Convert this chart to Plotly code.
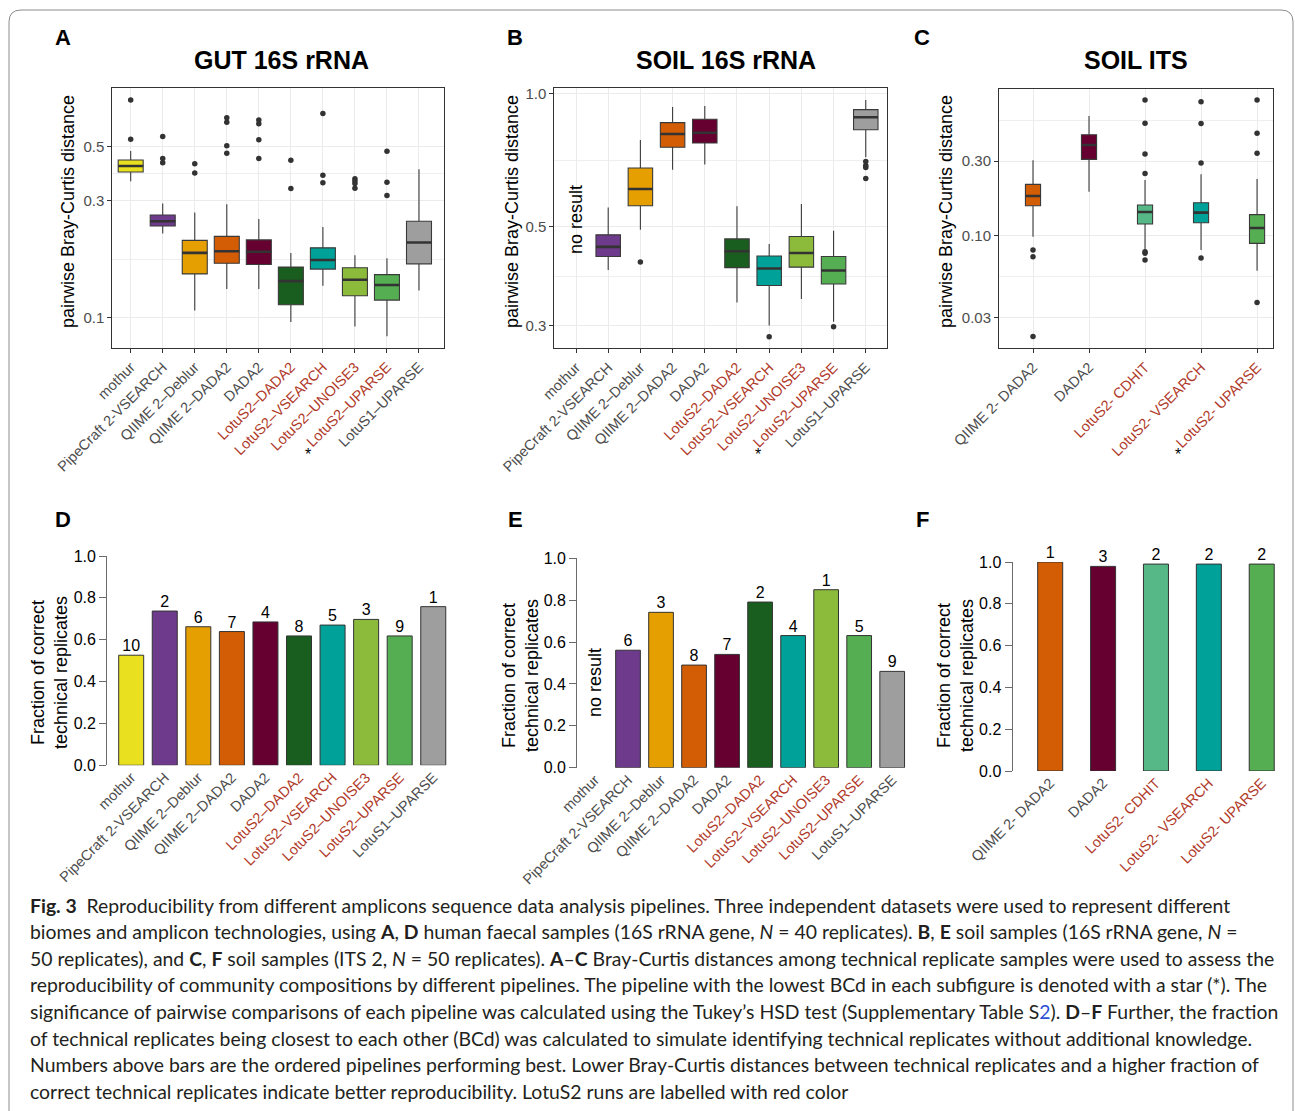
import plotly.graph_objects as go

W, H = 1295, 1111

# ---------------- data ----------------
pipes_16s = ["mothur", "PipeCraft 2-VSEARCH", "QIIME 2–Deblur", "QIIME 2–DADA2", "DADA2",
             "LotuS2–DADA2", "LotuS2–VSEARCH", "LotuS2–UNOISE3", "LotuS2–UPARSE", "LotuS1–UPARSE"]
pipes_its = ["QIIME 2- DADA2", "DADA2", "LotuS2- CDHIT", "LotuS2- VSEARCH", "LotuS2- UPARSE"]

colors_16s = ["#E9E01F", "#6E3A8B", "#E59F00", "#D35D04", "#660030",
              "#1A5E1F", "#00A198", "#8CBB3B", "#55AE52", "#9E9E9E"]
colors_its = ["#D35D04", "#660030", "#56B886", "#00A198", "#55AE52"]

# A: GUT 16S rRNA  (pairwise Bray-Curtis distance)
gut_low = [0.361, 0.221, 0.107, 0.131, 0.131, 0.096, 0.135, 0.092, 0.084, 0.129]
gut_q1 = [0.394, 0.237, 0.151, 0.167, 0.165, 0.113, 0.158, 0.123, 0.118, 0.166]
gut_med = [0.417, 0.248, 0.184, 0.187, 0.186, 0.141, 0.172, 0.143, 0.136, 0.203]
gut_q3 = [0.441, 0.263, 0.207, 0.215, 0.208, 0.161, 0.193, 0.160, 0.150, 0.248]
gut_high = [0.480, 0.293, 0.269, 0.291, 0.253, 0.184, 0.235, 0.180, 0.175, 0.404]
gut_out = [[0.776, 0.536], [0.550, 0.447, 0.430], [0.426, 0.390], [0.657, 0.629, 0.505, 0.470],
           [0.643, 0.621, 0.534, 0.447], [0.440, 0.337], [0.684, 0.382, 0.356],
           [0.370, 0.362, 0.354, 0.338], [0.479, 0.358, 0.316], []]

# B: SOIL 16S rRNA
soil_low = [None, 0.400, 0.493, 0.673, 0.691, 0.338, 0.300, 0.344, 0.306, 0.718]
soil_q1 = [None, 0.429, 0.558, 0.756, 0.773, 0.405, 0.369, 0.406, 0.372, 0.828]
soil_med = [None, 0.451, 0.609, 0.810, 0.815, 0.441, 0.403, 0.437, 0.399, 0.883]
soil_q3 = [None, 0.480, 0.679, 0.859, 0.874, 0.470, 0.430, 0.476, 0.429, 0.919]
soil_high = [None, 0.553, 0.785, 0.932, 0.936, 0.557, 0.458, 0.563, 0.490, 0.966]
soil_out = [[], [], [0.417], [], [], [], [0.283], [], [0.298], [0.702, 0.688, 0.681, 0.643]]

# C: SOIL ITS
its_low = [0.0986, 0.191, 0.0818, 0.081, 0.0598]
its_q1 = [0.1555, 0.3074, 0.1188, 0.1211, 0.0894]
its_med = [0.1793, 0.3796, 0.1417, 0.1404, 0.112]
its_q3 = [0.2129, 0.4418, 0.1571, 0.1625, 0.1363]
its_high = [0.303, 0.5813, 0.2268, 0.2465, 0.2302]
its_out = [[0.081, 0.0735, 0.0227], [], [0.736, 0.522, 0.332, 0.250, 0.0791, 0.0772, 0.070],
           [0.718, 0.520, 0.291, 0.072], [0.736, 0.451, 0.336, 0.0375]]

# D-F: fraction of correct technical replicates and rank labels
gut_frac = [0.526, 0.737, 0.662, 0.639, 0.685, 0.618, 0.670, 0.697, 0.618, 0.758]
gut_rank = [10, 2, 6, 7, 4, 8, 5, 3, 9, 1]
soil_frac = [None, 0.561, 0.742, 0.490, 0.541, 0.791, 0.631, 0.850, 0.631, 0.460]
soil_rank = [None, 6, 3, 8, 7, 2, 4, 1, 5, 9]
its_frac = [1.0, 0.979, 0.990, 0.990, 0.990]
its_rank = [1, 3, 2, 2, 2]

gut_ticks = [0.1, 0.3, 0.5]
soil_ticks = [0.3, 0.5, 1.0]
its_ticks = [0.03, 0.10, 0.30]
frac_ticks = [0.0, 0.2, 0.4, 0.6, 0.8, 1.0]

# ---------------- helpers ----------------
FONT = "Liberation Sans, Arial, sans-serif"
RED = "#B03A2A"
GREY_TXT = "#4D4D4D"


def px(x):
    return x / W


def py(y):
    return 1 - y / H


def lab(name):
    if name.startswith("LotuS2"):
        return f'<span style="color:{RED}">{name}</span>'
    return name


fig = go.Figure()


def box_panel(ax, names, colors, low, q1, med, q3, high, outs, bw):
    xa = "x" if ax == 1 else f"x{ax}"
    ya = "y" if ax == 1 else f"y{ax}"
    mx, my = [], []
    ox, oy = [], []
    for i, n in enumerate(names):
        if med[i] is None:
            continue
        fig.add_trace(go.Box(x=[i], q1=[q1[i]], median=[med[i]], q3=[q3[i]],
                             lowerfence=[low[i]], upperfence=[high[i]],
                             width=bw, fillcolor=colors[i], whiskerwidth=0,
                             line=dict(color="#3A3A3A", width=1.1),
                             boxpoints=False, showlegend=False,
                             xaxis=xa, yaxis=ya, hoverinfo="skip"))
        mx += [i - bw / 2, i + bw / 2, None]
        my += [med[i], med[i], None]
        for v in outs[i]:
            ox.append(i)
            oy.append(v)
    fig.add_trace(go.Scatter(x=mx, y=my, mode="lines", line=dict(color="#333333", width=2.6),
                             showlegend=False, xaxis=xa, yaxis=ya, hoverinfo="skip"))
    fig.add_trace(go.Scatter(x=ox, y=oy, mode="markers", marker=dict(color="#333333", size=5.5),
                             showlegend=False, xaxis=xa, yaxis=ya, hoverinfo="skip"))


def bar_panel(ax, names, colors, frac, rank, bw):
    xa = f"x{ax}"
    ya = f"y{ax}"
    fig.add_trace(go.Bar(x=list(range(len(names))), y=frac, width=bw,
                         marker=dict(color=colors, line=dict(color="#333333", width=1)),
                         cliponaxis=False, showlegend=False, xaxis=xa, yaxis=ya, hoverinfo="skip"))
    tx = [i for i in range(len(names)) if frac[i] is not None]
    fig.add_trace(go.Scatter(x=tx, y=[frac[i] for i in tx], text=[str(rank[i]) for i in tx],
                             mode="text", textposition="top center",
                             textfont=dict(size=16, color="black", family=FONT),
                             cliponaxis=False, showlegend=False, xaxis=xa, yaxis=ya, hoverinfo="skip"))


box_panel(1, pipes_16s, colors_16s, gut_low, gut_q1, gut_med, gut_q3, gut_high, gut_out, 0.78)
box_panel(2, pipes_16s, colors_16s, soil_low, soil_q1, soil_med, soil_q3, soil_high, soil_out, 0.76)
box_panel(3, pipes_its, colors_its, its_low, its_q1, its_med, its_q3, its_high, its_out, 0.27)
bar_panel(4, pipes_16s, colors_16s, gut_frac, gut_rank, 0.745)
bar_panel(5, pipes_16s, colors_16s, soil_frac, soil_rank, 0.748)
bar_panel(6, pipes_its, colors_its, its_frac, its_rank, 0.473)


def box_axes(names, xdom, xrng, ydom, yrng, ticks, ticktext, minor):
    xa = dict(domain=[px(xdom[0]), px(xdom[1])], range=xrng, automargin=False,
              tickvals=list(range(len(names))), ticktext=[lab(n) for n in names],
              tickangle=-45, tickfont=dict(size=14.5, color=GREY_TXT, family=FONT),
              showgrid=True, gridcolor="#EBEBEB", gridwidth=1.2, zeroline=False,
              showline=True, mirror=True, linecolor="#333333", linewidth=1,
              ticks="outside", ticklen=4, tickcolor="#333333")
    ya = dict(domain=[py(ydom[1]), py(ydom[0])], type="log", range=yrng, automargin=False,
              tickvals=ticks, ticktext=ticktext,
              tickfont=dict(size=15, color=GREY_TXT, family=FONT),
              showgrid=True, gridcolor="#EBEBEB", gridwidth=1.2, zeroline=False,
              showline=True, mirror=True, linecolor="#333333", linewidth=1,
              ticks="outside", ticklen=4, tickcolor="#333333",
              minor=dict(tickvals=minor, showgrid=True, gridcolor="#EFEFEF", gridwidth=0.7, ticklen=0))
    return xa, ya


def bar_axes(names, xdom, xrng, ydom):
    xa = dict(domain=[px(xdom[0]), px(xdom[1])], range=xrng, automargin=False,
              tickvals=list(range(len(names))), ticktext=[lab(n) for n in names],
              tickangle=-45, tickfont=dict(size=14.5, color=GREY_TXT, family=FONT),
              showgrid=False, zeroline=False, showline=False, ticks="")
    ya = dict(domain=[py(ydom[1]), py(ydom[0])], range=[0, 1], automargin=False,
              tickvals=frac_ticks, ticktext=[f"{v:.1f}" for v in frac_ticks],
              tickfont=dict(size=16, color="black", family=FONT),
              showgrid=False, zeroline=False, showline=True, linecolor="#6B6B6B", linewidth=1.3,
              ticks="outside", ticklen=7, tickcolor="#6B6B6B", tickwidth=1.3)
    return xa, ya


xa1, ya1 = box_axes(pipes_16s, (112.3, 444.3), [-0.574, 9.79], (88, 348), [-1.124, -0.061],
                    gut_ticks, ["0.1", "0.3", "0.5"], [0.387, 0.173])
xa2, ya2 = box_axes(pipes_16s, (554.3, 886.7), [-0.674, 9.65], (88.3, 348.3), [-0.5743, 0.0113],
                    soil_ticks, ["0.3", "0.5", "1.0"], [0.707, 0.387])
xa3, ya3 = box_axes(pipes_its, (999, 1273.3), [-0.607, 4.29], (89.3, 348.3), [-1.7189, -0.065],
                    its_ticks, ["0.03", "0.10", "0.30"], [0.548, 0.0548])
xa4, ya4 = bar_axes(pipes_16s, (107.3, 455), [-0.712, 9.648], (556, 765.3))
xa5, ya5 = bar_axes(pipes_16s, (577.3, 912), [-0.536, 9.6], (558.3, 767.7))
xa6, ya6 = bar_axes(pipes_its, (1012.7, 1285), [-0.709, 4.44], (562, 771))

for k, (xa, ya) in enumerate([(xa1, ya1), (xa2, ya2), (xa3, ya3), (xa4, ya4), (xa5, ya5), (xa6, ya6)], start=1):
    sfx = "" if k == 1 else str(k)
    xa["anchor"] = "y" + sfx
    ya["anchor"] = "x" + sfx
    fig.layout["xaxis" + sfx] = xa
    fig.layout["yaxis" + sfx] = ya

ann = []


def text(x, y, s, size, color="black", bold=False, angle=0, family=FONT, xanchor="center"):
    ann.append(dict(x=px(x), y=py(y), xref="paper", yref="paper", text=f"<b>{s}</b>" if bold else s,
                    showarrow=False, textangle=angle, xanchor=xanchor, yanchor="middle",
                    font=dict(size=size, color=color, family=family)))


# panel letters and titles
for L, x, y in [("A", 63, 38), ("B", 515, 38), ("C", 922, 38), ("D", 63, 519), ("E", 515, 519), ("F", 922, 519)]:
    text(x, y, L, 22, bold=True)
text(281, 60, "GUT 16S rRNA", 25, bold=True)
text(726, 60, "SOIL 16S rRNA", 25, bold=True)
text(1136, 60, "SOIL ITS", 25, bold=True)

# axis titles
for x in (68, 512, 946):
    text(x, 212, "pairwise Bray-Curtis distance", 18, angle=-90)
for x, y in [(49, 673), (520, 676), (955, 676)]:
    text(x, y, "Fraction of correct<br>technical replicates", 18, angle=-90)

text(576, 220, "no result", 18, angle=-90)
text(595, 683, "no result", 18, angle=-90)

# stars marking lowest BCd
for x, y in [(308, 454), (758, 454), (1178, 454)]:
    text(x, y, "*", 16)

# caption
cap = [
    "<b>Fig. 3</b>\u2002Reproducibility from different amplicons sequence data analysis pipelines. Three independent datasets were used to represent different",
    "biomes and amplicon technologies, using <b>A</b>, <b>D</b> human faecal samples (16S rRNA gene, <i>N</i> = 40 replicates). <b>B</b>, <b>E</b> soil samples (16S rRNA gene, <i>N</i> =",
    "50 replicates), and <b>C</b>, <b>F</b> soil samples (ITS 2, <i>N</i> = 50 replicates). <b>A</b>–<b>C</b> Bray-Curtis distances among technical replicate samples were used to assess the",
    "reproducibility of community compositions by different pipelines. The pipeline with the lowest BCd in each subfigure is denoted with a star (*). The",
    "significance of pairwise comparisons of each pipeline was calculated using the Tukey’s HSD test (Supplementary Table S<span style=\"color:#2B4FD6\">2</span>). <b>D</b>–<b>F</b> Further, the fraction",
    "of technical replicates being closest to each other (BCd) was calculated to simulate identifying technical replicates without additional knowledge.",
    "Numbers above bars are the ordered pipelines performing best. Lower Bray-Curtis distances between technical replicates and a higher fraction of",
    "correct technical replicates indicate better reproducibility. LotuS2 runs are labelled with red color",
]
for i, line in enumerate(cap):
    text(28, 905 + i * 26.6, line, 19.4, color="#231F20", family="Lato", xanchor="left")

frame = dict(type="path", xref="paper", yref="paper",
             path=f"M {px(21)} {py(10)} L {px(1281)} {py(10)} Q {px(1293)} {py(10)} {px(1293)} {py(22)} "
                  f"L {px(1293)} {py(1120)} L {px(9)} {py(1120)} L {px(9)} {py(22)} Q {px(9)} {py(10)} {px(21)} {py(10)} Z",
             line=dict(color="#8C8C8C", width=1), fillcolor="rgba(0,0,0,0)", layer="below")

fig.update_layout(width=W, height=H, margin=dict(l=0, r=0, t=0, b=0, autoexpand=False), autosize=False,
                  paper_bgcolor="white", plot_bgcolor="white", boxmode="overlay",
                  font=dict(family=FONT), annotations=ann, shapes=[frame], showlegend=False)

fig.write_html("out.html", config={"displayModeBar": False},
               post_script="document.body.style.margin='0px';document.body.style.overflow='hidden';")
